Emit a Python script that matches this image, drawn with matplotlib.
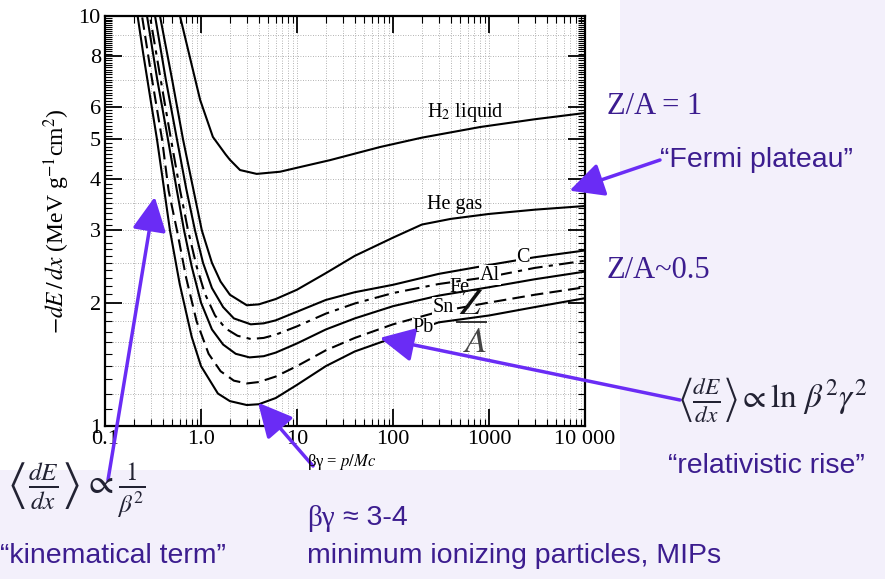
import numpy as np
import matplotlib
matplotlib.use("Agg")
import matplotlib.pyplot as plt
from matplotlib.patches import Rectangle
from matplotlib.ticker import FixedLocator, NullFormatter, LogLocator

plt.rcParams["mathtext.fontset"] = "stix"

# ---- data (beta*gamma, -dE/dx in MeV g^-1 cm^2) ----
bg_h2 = [0.56, 0.604, 0.8, 0.98, 1.33, 1.8, 2.0, 2.55, 3.8, 6.65, 10.7, 22, 73, 200, 806, 3000, 10000]
dedx_h2 = [11.0, 10.0, 7.6, 6.24, 5.07, 4.6, 4.46, 4.21, 4.12, 4.17, 4.28, 4.45, 4.79, 5.05, 5.36, 5.6, 5.80]

bg_he = [0.34, 0.374, 0.5, 0.65, 0.8, 1.02, 1.3, 1.6, 2.0, 3.0, 4.0, 6, 10, 20, 40, 100, 200, 400, 1000, 3000, 10000]
dedx_he = [11.3, 10.0, 7.0, 5.0, 3.95, 3.0, 2.5, 2.25, 2.09, 1.97, 1.98, 2.04, 2.15, 2.36, 2.60, 2.88, 3.10, 3.20, 3.29, 3.37, 3.44]

bg_c = [0.3, 0.332, 0.43, 0.562, 0.7, 0.866, 1.05, 1.3, 1.7, 2.2, 3.3, 4.5, 6, 10, 20, 40, 100, 300, 1000, 3000, 10000]
dedx_c = [11.5, 10.0, 7.0, 5.0, 3.8, 3.0, 2.5, 2.17, 1.95, 1.83, 1.77, 1.78, 1.81, 1.90, 2.03, 2.12, 2.21, 2.35, 2.47, 2.58, 2.68]

bg_al = [0.27, 0.294, 0.38, 0.487, 0.6, 0.733, 0.9, 1.1, 1.4, 1.8, 2.4, 3.3, 4.5, 6, 10, 20, 40, 100, 300, 1000, 3000, 10000]
dedx_al = [11.5, 10.0, 7.0, 5.0, 3.8, 3.0, 2.45, 2.1, 1.86, 1.73, 1.66, 1.63, 1.64, 1.67, 1.75, 1.88, 1.99, 2.11, 2.22, 2.31, 2.43, 2.53]

bg_fe = [0.25, 0.274, 0.35, 0.453, 0.55, 0.666, 0.8, 1.0, 1.3, 1.7, 2.3, 3.2, 4.5, 6, 10, 20, 40, 100, 300, 1000, 3000, 10000]
dedx_fe = [11.8, 10.0, 7.0, 5.0, 3.85, 3.0, 2.45, 2.0, 1.72, 1.58, 1.50, 1.47, 1.48, 1.51, 1.59, 1.72, 1.83, 1.96, 2.08, 2.18, 2.28, 2.38]

bg_sn = [0.22, 0.243, 0.3, 0.393, 0.46, 0.562, 0.7, 0.9, 1.2, 1.6, 2.2, 3.0, 4, 6, 10, 20, 40, 100, 300, 1000, 3000, 10000]
dedx_sn = [11.3, 10.0, 7.3, 5.0, 3.75, 3.0, 2.3, 1.8, 1.5, 1.36, 1.29, 1.27, 1.28, 1.32, 1.40, 1.53, 1.64, 1.77, 1.90, 2.00, 2.09, 2.18]

bg_pb = [0.2, 0.25, 0.3, 0.348, 0.4, 0.475, 0.6, 0.8, 1.0, 1.5, 2.0, 3.0, 4.0, 6.0, 10, 20, 40, 100, 300, 1000, 3000, 10000]
dedx_pb = [11.5, 8.1, 6.2, 5.0, 3.98, 3.0, 2.22, 1.65, 1.40, 1.20, 1.15, 1.125, 1.13, 1.17, 1.26, 1.40, 1.52, 1.64, 1.79, 1.86, 1.95, 2.05]

x_ticks = [0.1, 1, 10, 100, 1000, 10000]
x_ticklabels = ["0.1", "1.0", "10", "100", "1000", "10 000"]
y_ticks = [1, 2, 3, 4, 5, 6, 8, 10]
y_ticklabels = ["1", "2", "3", "4", "5", "6", "8", "10"]

W, H = 885, 579
SERIF = "Liberation Serif"
SANS = "Liberation Sans"
TXT = "#3c1d8f"
ARROW = "#6a2cf5"
FORM = "#222233"

fig = plt.figure(figsize=(W / 100, H / 100), dpi=100)
fig.patch.set_facecolor("#f3f0fb")
fig.patches.append(Rectangle((0, 1 - 470 / H), 620 / W, 470 / H, transform=fig.transFigure,
                             facecolor="white", edgecolor="none", zorder=-10))

ax = fig.add_axes([105 / W, 153 / H, 480 / W, 410 / H])
ax.set_xscale("log")
ax.set_yscale("log")
ax.set_xlim(0.1, 10000)
ax.set_ylim(1, 10)
ax.set_facecolor("white")

# dotted grid like the scanned log paper
ax.xaxis.set_minor_locator(LogLocator(base=10, subs=np.arange(2, 10)))
ax.grid(True, which="both", axis="x", ls=(0, (1, 2)), color="#9a9a9a", lw=0.6)
for gy in [1.2, 1.4, 1.6, 1.8, 2, 2.5, 3, 3.5, 4, 5, 6, 7, 8, 9]:
    ax.axhline(gy, ls=(0, (1, 2)), color="#9a9a9a", lw=0.6, zorder=0.5)

lw = 1.5
ax.plot(bg_h2, dedx_h2, color="black", lw=lw)
ax.plot(bg_he, dedx_he, color="black", lw=lw)
ax.plot(bg_c, dedx_c, color="black", lw=lw)
ax.plot(bg_al, dedx_al, color="black", lw=lw, ls=(0, (7, 3, 2, 3)))
ax.plot(bg_fe, dedx_fe, color="black", lw=lw)
ax.plot(bg_sn, dedx_sn, color="black", lw=lw, ls=(0, (6, 3)))
ax.plot(bg_pb, dedx_pb, color="black", lw=lw)

ax.set_xticks(x_ticks)
ax.set_xticklabels(x_ticklabels, family=SERIF, fontsize=16)
ax.set_yticks(y_ticks)
ax.set_yticklabels(y_ticklabels, family=SERIF, fontsize=16)
ax.yaxis.set_minor_locator(FixedLocator(np.arange(1.1, 10, 0.1)))
ax.yaxis.set_minor_formatter(NullFormatter())
ax.xaxis.set_minor_formatter(NullFormatter())
ax.tick_params(which="both", direction="in", top=True, right=True)
ax.tick_params(which="major", length=12, width=1.3, pad=3)
ax.tick_params(which="minor", length=5, width=0.8)
for s in ax.spines.values():
    s.set_linewidth(1.6)

ax.set_ylabel(r"$-dE\,/\,dx$ (MeV g$^{-1}$cm$^{2}$)", family=SERIF, fontsize=17, labelpad=5)
fig.text(307 / W, 1 - 462 / H, "βγ = $p/Mc$", family=SERIF, fontsize=12, ha="left", va="center")


def afrac(px, py):
    return ((px - 105) / 480, (426 - py) / 410)


def ffrac(px, py):
    return (px / W, 1 - py / H)


lab = dict(family=SERIF, fontsize=14.5, ha="center", va="center", transform=ax.transAxes)
box = dict(facecolor="white", edgecolor="none", pad=0.5)
ax.text(*afrac(465, 113), "H$_2$ liquid", **lab)
ax.text(*afrac(455, 205), "He gas", **lab)
ax.text(*afrac(523, 257), "C", bbox=box, **lab)
ax.text(*afrac(490, 275), "Al", bbox=box, **lab)
ax.text(*afrac(460, 288), "Fe", **lab)
ax.text(*afrac(443, 307), "Sn", bbox=box, **lab)
ax.text(*afrac(423, 328), "Pb", bbox=box, **lab)
ax.text(*afrac(471, 305), "$Z$", family=SERIF, fontsize=26, ha="center", va="center",
        transform=ax.transAxes, color="#111111")
ax.plot([afrac(457, 0)[0], afrac(486, 0)[0]], [afrac(0, 322)[1]] * 2, color="#333333",
        lw=1.4, transform=ax.transAxes)
ax.text(*afrac(475, 343), "$A$", family=SERIF, fontsize=26, ha="center", va="center",
        transform=ax.transAxes, color="#444444")

# slide annotations
fig.text(*ffrac(607, 107), "Z/A = 1", family=SERIF, fontsize=22, color=TXT, ha="left", va="center")
fig.text(*ffrac(660, 160), "\u201cFermi plateau\u201d", family=SANS, fontsize=20.5, color=TXT,
         ha="left", va="center")
fig.text(*ffrac(607, 270), "Z/A~0.5", family=SERIF, fontsize=22, color=TXT, ha="left", va="center")
fig.text(*ffrac(678, 400), r"$\left\langle\frac{dE}{dx}\right\rangle\propto\ln\,\beta^2\gamma^2$",
         fontsize=24, color=FORM, ha="left", va="center")
fig.text(*ffrac(668, 466), "\u201crelativistic rise\u201d", family=SANS, fontsize=20.5, color=TXT,
         ha="left", va="center")
fig.text(*ffrac(6, 490), r"$\left\langle\frac{dE}{dx}\right\rangle\propto\frac{1}{\beta^2}$",
         fontsize=26, color=FORM, ha="left", va="center")
fig.text(*ffrac(0, 556), "\u201ckinematical term\u201d", family=SANS, fontsize=20.5, color=TXT,
         ha="left", va="center")
fig.text(*ffrac(307, 518), "βγ", family=SERIF, fontsize=21, color=TXT, ha="left", va="center")
fig.text(*ffrac(343, 518), "\u2248 3-4", family=SANS, fontsize=20.5, color=TXT, ha="left", va="center")
fig.text(*ffrac(307, 556), "minimum ionizing particles, MIPs", family=SANS, fontsize=20.5,
         color=TXT, ha="left", va="center")


def arrow(tail_px, tip):
    ax.annotate("", xy=tip, xycoords="data", xytext=ffrac(*tail_px), textcoords="figure fraction",
                arrowprops=dict(arrowstyle="-|>,head_length=1.1,head_width=0.55", mutation_scale=19,
                                lw=2.5, color=ARROW, shrinkA=0, shrinkB=0),
                annotation_clip=False)


arrow((660, 160), (6900, 3.75))
arrow((680, 400), (73, 1.64))
arrow((313, 466), (3.93, 1.14))
arrow((108, 480), (0.33, 3.62))

fig.savefig("out.png", dpi=100, facecolor=fig.get_facecolor())
